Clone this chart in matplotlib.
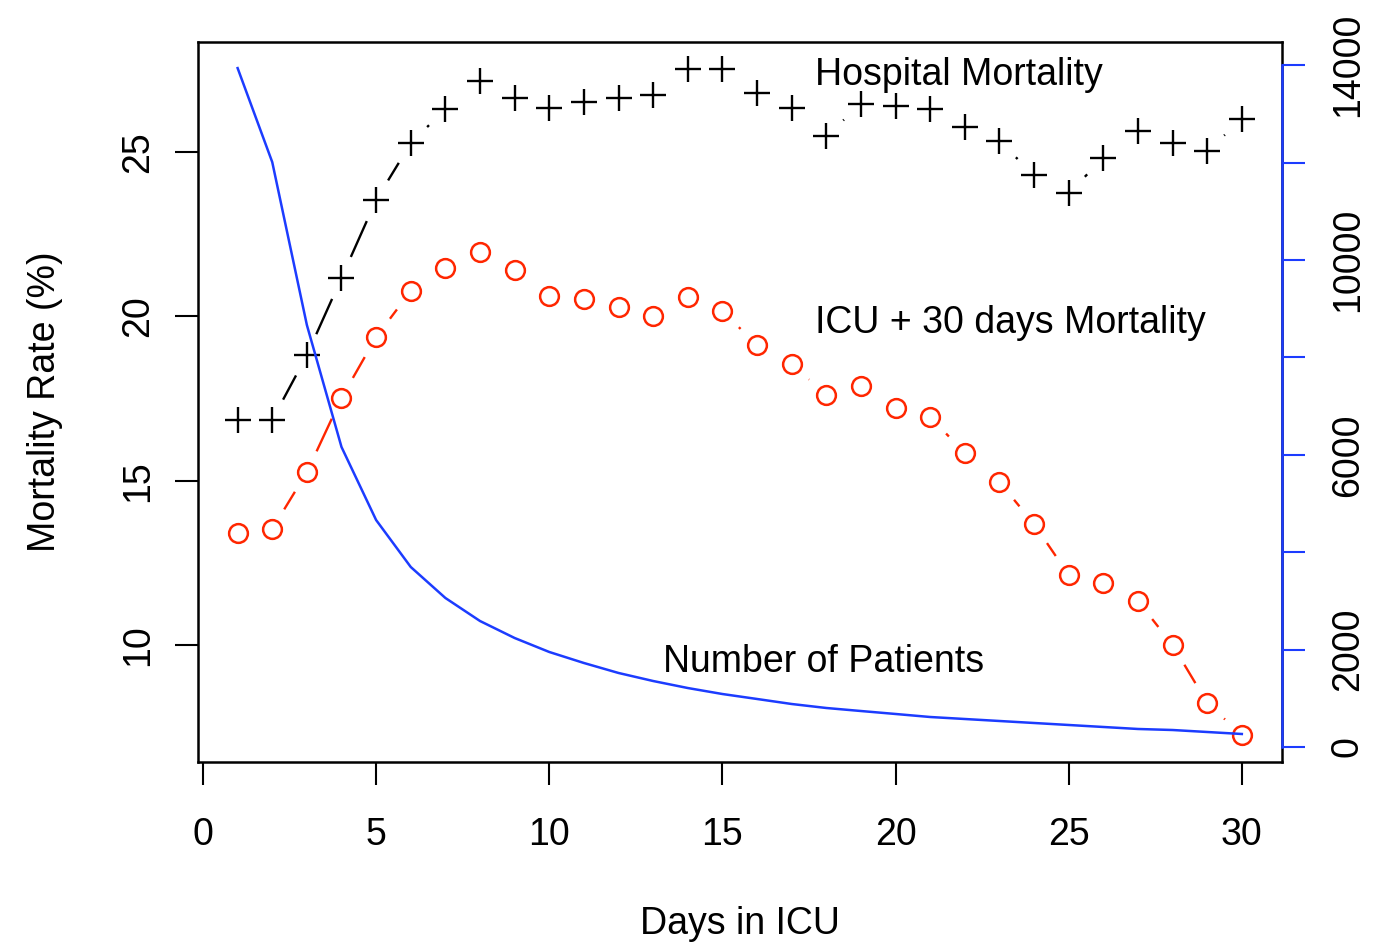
import numpy as np
import matplotlib
matplotlib.use('Agg')
import matplotlib.pyplot as plt

plt.rcParams['font.family'] = ['Liberation Sans', 'DejaVu Sans']

days = list(range(1, 31))

# hospital mortality (%), crosses
hospital = [16.85, 16.85, 18.82, 21.17, 23.54, 25.27, 26.31, 27.16, 26.64, 26.34,
            26.52, 26.64, 26.73, 27.53, 27.53, 26.80, 26.34, 25.49, 26.46, 26.40,
            26.31, 25.76, 25.33, 24.30, 23.75, 24.82, 25.64, 25.27, 25.03, 26.00]

# ICU + 30 days mortality (%), circles
icu30 = [13.41, 13.53, 15.26, 17.52, 19.37, 20.77, 21.47, 21.96, 21.41, 20.62,
         20.53, 20.28, 20.01, 20.59, 20.16, 19.13, 18.55, 17.61, 17.88, 17.21,
         16.94, 15.84, 14.96, 13.68, 12.13, 11.89, 11.34, 10.00, 8.24, 7.26]

# number of patients still in ICU
patients = [13940, 12010, 8665, 6160, 4660, 3696, 3060, 2587, 2238, 1951,
            1725, 1520, 1355, 1211, 1088, 986, 883, 801, 739, 678,
            616, 575, 534, 493, 452, 411, 370, 349, 308, 267]

red = '#FF2600'
blue = '#1C3CFF'
fs = 27

fig = plt.figure(figsize=(13.86, 9.44), dpi=100)
ax = fig.add_axes([198/1386, 182/944, 1084/1386, 720/944])
ax.set_xlim(-0.144, 31.16)
ax.set_ylim(6.44, 28.35)


def gapped(ax, x, y, color, gap=23):
    # R type="b": line segments stop short of each point
    pts = ax.transData.transform(np.column_stack([x, y]))
    inv = ax.transData.inverted()
    for p0, p1 in zip(pts[:-1], pts[1:]):
        d = p1 - p0
        L = np.hypot(*d)
        if L <= 2 * gap:
            continue
        u = d / L
        a = inv.transform(p0 + u * gap)
        b = inv.transform(p1 - u * gap)
        ax.plot([a[0], b[0]], [a[1], b[1]], color=color, lw=1.7,
                solid_capstyle='butt')


gapped(ax, days, hospital, 'black')
gapped(ax, days, icu30, red)
ax.plot(days, hospital, linestyle='none', marker='+', markersize=19,
        markeredgewidth=1.7, color='black')
ax.plot(days, icu30, linestyle='none', marker='o', markersize=13.5,
        markerfacecolor='none', markeredgewidth=1.8, markeredgecolor=red)

ax.text(17.67, 27.04, 'Hospital Mortality', fontsize=fs, va='baseline')
ax.text(17.67, 19.49, 'ICU + 30 days Mortality', fontsize=fs, va='baseline')
ax.text(13.28, 9.18, 'Number of Patients', fontsize=fs, va='baseline')

ax.set_xticks([0, 5, 10, 15, 20, 25, 30])
ax.set_yticks([10, 15, 20, 25])
ax.tick_params(length=16.5, width=1.5, labelsize=fs, pad=14)
ax.tick_params(axis='x', pad=23)
ax.tick_params(axis='y', labelrotation=90)
for lab in ax.get_yticklabels():
    lab.set_va('center')
for s in ax.spines.values():
    s.set_linewidth(1.8)
ax.set_xlabel('Days in ICU', fontsize=fs, labelpad=38)
ax.set_ylabel('Mortality Rate (%)', fontsize=fs, labelpad=41)

ax2 = ax.twinx()
ax2.set_ylim(-308, 14476)
ax2.plot(days, patients, color=blue, lw=1.8)
ax2.set_yticks(range(0, 14001, 2000),
               ['0', '2000', '', '6000', '', '10000', '', '14000'])
ax2.tick_params(axis='y', length=16.5, width=1.5, colors=blue, labelcolor='black',
                labelsize=fs, pad=18, labelrotation=90)
for lab in ax2.get_yticklabels():
    lab.set_va('center')
for s in ['top', 'bottom', 'left']:
    ax2.spines[s].set_visible(False)
ax2.spines['right'].set_bounds(0, 14000)
ax2.spines['right'].set_color(blue)
ax2.spines['right'].set_linewidth(1.8)

fig.savefig('out.png', dpi=100)
